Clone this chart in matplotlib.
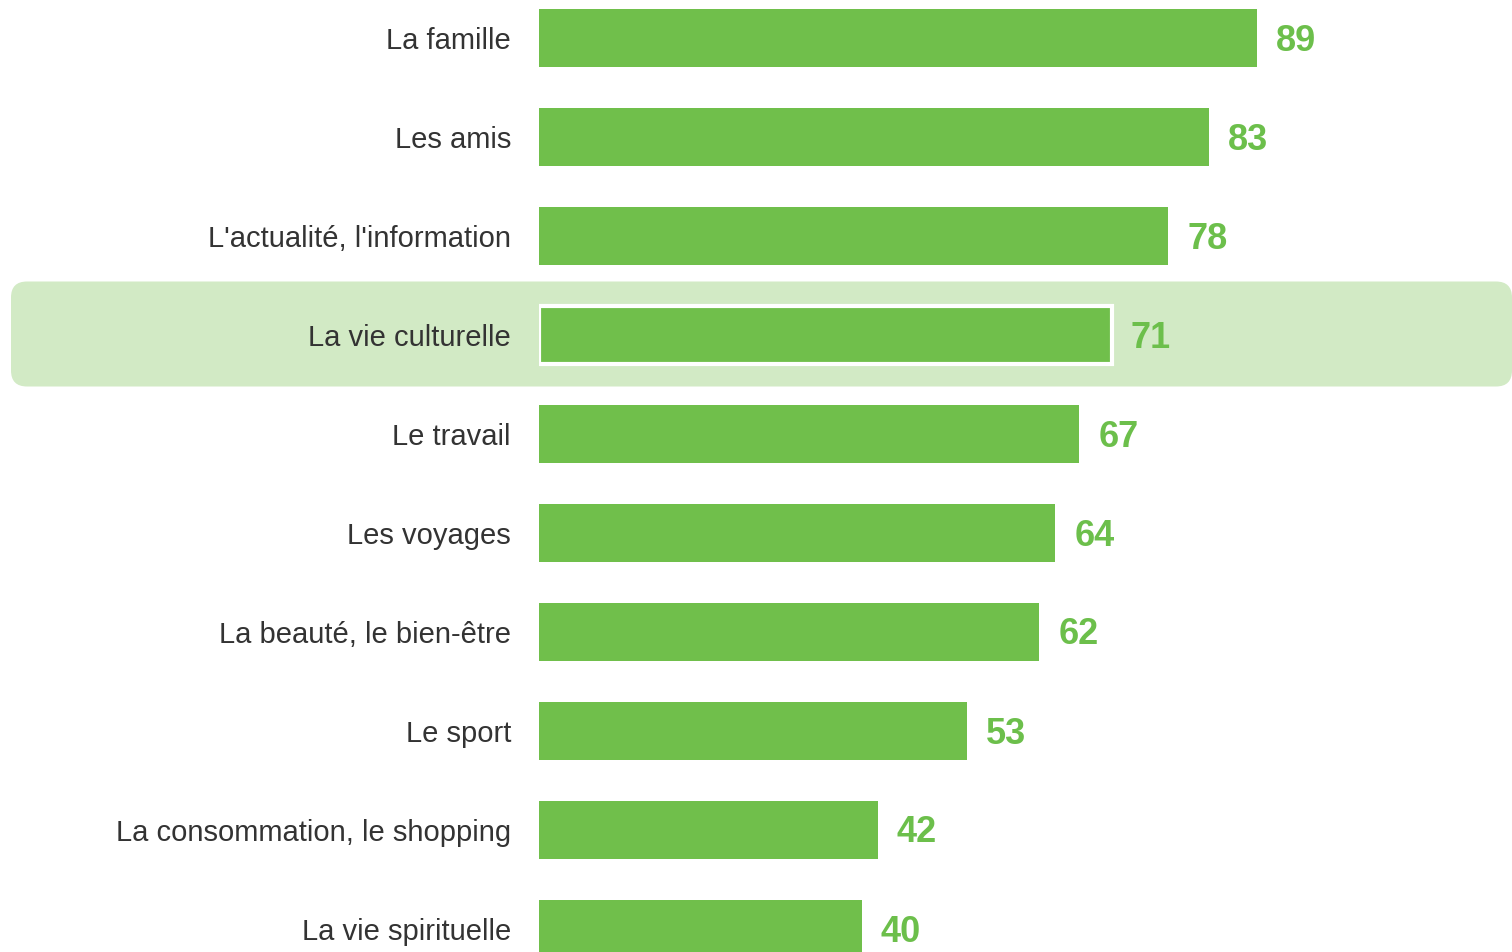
import matplotlib
matplotlib.use("Agg")
import matplotlib.pyplot as plt
from matplotlib.patches import FancyBboxPatch
from matplotlib.transforms import IdentityTransform

categories = ["La famille", "Les amis", "L'actualité, l'information", "La vie culturelle",
              "Le travail", "Les voyages", "La beauté, le bien-être", "Le sport",
              "La consommation, le shopping", "La vie spirituelle"]
values = [89, 83, 78, 71, 67, 64, 62, 53, 42, 40]
highlight = "La vie culturelle"

bar_color = "#70BF4B"
label_color = "#6CBF4B"
text_color = "#333333"
hl_color = "#D2EAC5"

W, H, DPI = 1512, 953, 100
fig = plt.figure(figsize=(W / DPI, H / DPI), dpi=DPI)
fig.patch.set_facecolor("white")

x0 = 539
ax = fig.add_axes([x0 / W, 0, (W - x0) / W, 1])
ax.patch.set_alpha(0)
ax.set_zorder(1)
ax.set_xlim(0, (W - x0) / 8.067)
pitch = 99
top = 39
ax.set_ylim((H - top) / pitch, -top / pitch)
ax.axis("off")

for i, (c, v) in enumerate(zip(categories, values)):
    is_hl = c == highlight
    ax.barh(i, v, height=0.586, color=bar_color,
            edgecolor="white" if is_hl else "none",
            linewidth=3 if is_hl else 0, zorder=3)
    ax.annotate(str(v), xy=(v, i), xytext=(19, -2), textcoords="offset pixels",
                ha="left", va="center", fontsize=26, fontweight="bold",
                color=label_color, family="Liberation Sans", zorder=4)
    ax.annotate(c, xy=(0, i), xytext=(-28, -2), textcoords="offset pixels",
                ha="right", va="center", fontsize=21, color=text_color,
                family="Liberation Sans", annotation_clip=False, zorder=4)

# highlight band behind the highlighted row
hi = categories.index(highlight)
_, yc = ax.transData.transform((0, hi))
band_h = 105
band = FancyBboxPatch((11, yc - band_h / 2 + 1), W - 11, band_h,
                      boxstyle="round,pad=0,rounding_size=16",
                      facecolor=hl_color, edgecolor="none",
                      transform=IdentityTransform(), zorder=-1)
fig.patches.append(band)

fig.savefig("out.png", dpi=DPI, facecolor="white")
